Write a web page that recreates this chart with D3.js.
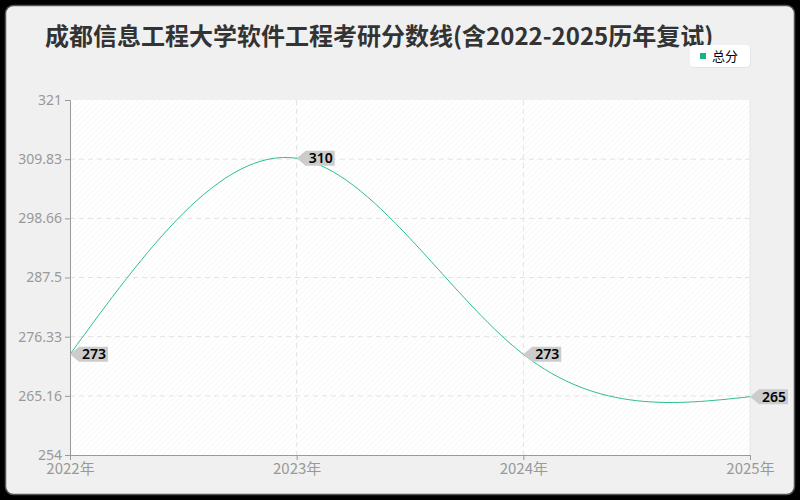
<!DOCTYPE html>
<html>
<head>
<meta charset="utf-8">
<script src="https://cdn.jsdelivr.net/npm/d3@7"></script>
<style>
  html, body { margin: 0; padding: 0; background: #000; }
  svg { display: block; font-family: "Noto Sans CJK SC", "Noto Sans", sans-serif; }
</style>
</head>
<body>
<svg id="chart" width="800" height="500"></svg>
<script>
const years = ['2022年', '2023年', '2024年', '2025年'];
const scores = [273, 310, 273, 265];
const yTicks = [254, 265.16, 276.33, 287.5, 298.66, 309.83, 321];
const seriesName = '总分';
const title = '成都信息工程大学软件工程考研分数线(含2022-2025历年复试)';

const width = 800, height = 500;
const margin = { left: 70, right: 50, top: 100, bottom: 45 };
const lineColor = '#2fbf8b';

const svg = d3.select('#chart');

// panel
svg.append('rect')
  .attr('x', 5.5).attr('y', 5.5)
  .attr('width', width - 11).attr('height', height - 11)
  .attr('rx', 8)
  .style('fill', '#f0f0f0')
  .style('stroke', '#555')
  .style('stroke-width', 1.5);

// hatch for the plot background
const defs = svg.append('defs');
const pat = defs.append('pattern')
  .attr('id', 'hatch')
  .attr('width', 4).attr('height', 4)
  .attr('patternUnits', 'userSpaceOnUse')
  .attr('patternTransform', 'rotate(45)');
pat.append('rect').attr('width', 4).attr('height', 4).style('fill', '#fff');
pat.append('line').attr('x1', 0).attr('y1', 0).attr('x2', 0).attr('y2', 4)
  .style('stroke', '#f2f2f2').style('stroke-width', 1);

const x = d3.scalePoint().domain(years).range([margin.left, width - margin.right]);
const y = d3.scaleLinear().domain([254, 321]).range([height - margin.bottom, margin.top]);

svg.append('rect')
  .attr('x', margin.left).attr('y', margin.top)
  .attr('width', width - margin.left - margin.right)
  .attr('height', height - margin.top - margin.bottom)
  .style('fill', 'url(#hatch)');

// grid
svg.append('g').selectAll('line')
  .data(yTicks.slice(1, -1))
  .join('line')
  .attr('x1', margin.left).attr('x2', width - margin.right)
  .attr('y1', d => y(d)).attr('y2', d => y(d))
  .style('stroke', '#e3e3e3').style('stroke-dasharray', '5,4');
svg.append('g').selectAll('line')
  .data(years.slice(1))
  .join('line')
  .attr('x1', d => x(d)).attr('x2', d => x(d))
  .attr('y1', margin.top).attr('y2', height - margin.bottom)
  .style('stroke', d => d === years[years.length - 1] ? '#e6e6e6' : '#e3e3e3')
  .style('stroke-dasharray', d => d === years[years.length - 1] ? null : '5,4');

// axes
const yAxis = svg.append('g')
  .attr('transform', `translate(${margin.left},0)`)
  .call(d3.axisLeft(y).tickValues(yTicks).tickFormat(d => String(d)).tickSize(5).tickPadding(3));
const xAxis = svg.append('g')
  .attr('transform', `translate(0,${height - margin.bottom})`)
  .call(d3.axisBottom(x).tickSize(5).tickPadding(3));
[yAxis, xAxis].forEach(a => {
  a.select('.domain').style('stroke', '#999');
  a.selectAll('.tick line').style('stroke', '#999');
  a.selectAll('.tick text')
    .style('fill', '#999')
    .style('font-size', '14px')
    .style('font-family', '"Noto Sans", sans-serif');
});
xAxis.selectAll('.tick text').style('font-family', '"Noto Sans CJK SC", sans-serif').style('font-size', '15px');

// line
const line = d3.line()
  .x((d, i) => x(years[i]))
  .y(d => y(d))
  .curve(d3.curveNatural);
svg.append('path')
  .datum(scores)
  .attr('d', line)
  .style('fill', 'none')
  .style('stroke', lineColor)
  .style('stroke-width', 1);

// value labels
const labels = svg.append('g').selectAll('g')
  .data(scores)
  .join('g')
  .attr('transform', (d, i) => `translate(${x(years[i])},${y(d)})`);
labels.append('path')
  .attr('d', 'M0,0 L9,-7.5 L38,-7.5 L38,7.5 L9,7.5 Z')
  .style('fill', '#cccccc');
labels.append('text')
  .attr('x', 12).attr('y', 5)
  .text(d => d)
  .style('font-size', '14px')
  .style('font-weight', 600)
  .style('font-family', '"Noto Sans", sans-serif')
  .style('fill', '#000');

// title
svg.append('text')
  .attr('x', 45).attr('y', 45)
  .text(title)
  .style('font-size', '24px')
  .style('font-weight', 'bold')
  .style('fill', '#333');

// legend
const legend = svg.append('g').attr('transform', 'translate(690,45)');
legend.append('rect')
  .attr('x', 1).attr('y', 1)
  .attr('width', 60).attr('height', 22).attr('rx', 4)
  .style('fill', '#e4e4e4');
legend.append('rect')
  .attr('width', 60).attr('height', 22).attr('rx', 4)
  .style('fill', '#fff');
legend.append('rect')
  .attr('x', 10).attr('y', 8).attr('width', 6).attr('height', 6)
  .style('fill', '#19b382');
legend.append('text')
  .attr('x', 22).attr('y', 16)
  .text(seriesName)
  .style('font-size', '13px')
  .style('fill', '#000');
</script>
</body>
</html>
